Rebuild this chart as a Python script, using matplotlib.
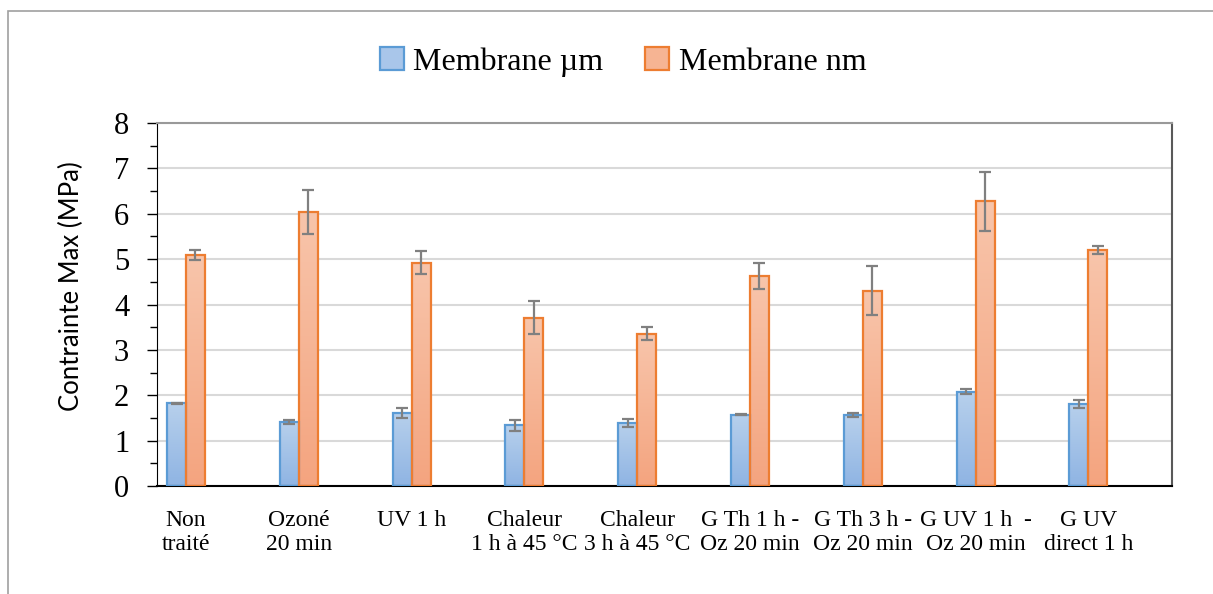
#! /usr/bin/env python3

import matplotlib
matplotlib.use("Agg")
import matplotlib.pyplot as plt
import numpy as np
from matplotlib.colors import to_rgb
from matplotlib.patches import Rectangle

labels = ["Non\ntraité", "Ozoné\n20 min", "UV 1 h", "Chaleur\n1 h à 45 °C",
          "Chaleur\n3 h à 45 °C", "G Th 1 h -\nOz 20 min", "G Th 3 h -\nOz 20 min",
          "G UV 1 h  -\nOz 20 min", "G UV\ndirect 1 h"]
membrane_um     = [1.82, 1.42, 1.61, 1.34, 1.39, 1.57, 1.56, 2.08, 1.81]
membrane_um_err = [0.01, 0.045, 0.11, 0.12, 0.09, 0.01, 0.05, 0.06, 0.08]
membrane_nm     = [5.09, 6.04, 4.92, 3.71, 3.36, 4.63, 4.30, 6.27, 5.21]
membrane_nm_err = [0.12, 0.48, 0.25, 0.36, 0.15, 0.29, 0.54, 0.65, 0.09]

serif = "Liberation Serif"
x = np.arange(len(labels))
width = 0.168

fig = plt.figure(figsize=(12.13, 5.94), dpi=100)
ax = fig.add_axes([157/1213, 1 - 486/594, (1172 - 157)/1213, (486 - 123)/594])

b1 = ax.bar(x - width/2, membrane_um, width, facecolor="none", edgecolor="#5b9bd5",
            linewidth=1.6, label="Membrane µm", zorder=3)
b2 = ax.bar(x + width/2, membrane_nm, width, facecolor="none", edgecolor="#ed7d31",
            linewidth=1.6, label="Membrane nm", zorder=3)


def gradient_fill(rects, top, bottom):
    """Vertical gradient inside each bar, clipped to the bar."""
    t = np.linspace(0, 1, 128)[:, None]
    img = (1 - t) * np.array(to_rgb(top)) + t * np.array(to_rgb(bottom))
    img = img[:, None, :]
    for r in rects:
        im = ax.imshow(img, extent=[r.get_x(), r.get_x() + r.get_width(), 0, r.get_height()],
                       aspect="auto", zorder=2, interpolation="bilinear")
        im.set_clip_path(r)


gradient_fill(b1, "#b7d0ec", "#8fb4e3")
gradient_fill(b2, "#f8c5ab", "#f4a47f")

ax.errorbar(x - width/2, membrane_um, yerr=membrane_um_err, fmt="none", ecolor="#808080",
            elinewidth=1.6, capsize=4, capthick=1.6, zorder=4)
ax.errorbar(x + width/2, membrane_nm, yerr=membrane_nm_err, fmt="none", ecolor="#808080",
            elinewidth=1.6, capsize=4, capthick=1.6, zorder=4)

ax.set_xlim(-0.257, 8.741)
ax.set_ylim(0, 8)
ax.set_yticks(range(0, 9))
ax.set_yticks(np.arange(0.5, 8, 1), minor=True)
ax.set_xticks(x)
ax.set_xticklabels(labels, fontfamily=serif, fontsize=17, linespacing=1.2)
ax.tick_params(axis="x", length=0, pad=17)
ax.tick_params(axis="y", which="major", length=7, width=1, pad=13, labelsize=22)
ax.tick_params(axis="y", which="minor", length=5, width=1)
for t in ax.get_yticklabels():
    t.set_fontfamily(serif)

ax.yaxis.grid(True, color="#d9d9d9", linewidth=1.5, zorder=0)
ax.set_axisbelow(True)
ax.spines["left"].set_color("black")
ax.spines["bottom"].set_color("black")
ax.spines["bottom"].set_linewidth(1.5)
ax.spines["top"].set_color("#999999")
ax.spines["top"].set_linewidth(1.5)
ax.spines["right"].set_color("#595959")
ax.spines["right"].set_linewidth(1.5)

fig.text(71/1213, 1 - 286/594, "Contrainte Max (MPa)", rotation=90, ha="center", va="center",
         fontfamily="Lato", fontsize=18.5)

fig.legend(handles=[b1, b2], loc="center", bbox_to_anchor=(623/1213, 1 - 62/594), ncol=2,
           frameon=False, prop={"family": serif, "size": 23}, handlelength=0.75,
           handleheight=0.75, handletextpad=0.3, columnspacing=1.3)
for h, c in zip(fig.legends[0].legend_handles, ["#a9c6ea", "#f6b493"]):
    h.set_facecolor(c)

# chart frame
fig.add_artist(Rectangle((8/1213, -0.2), 1.5, 1.2 - 11/594, transform=fig.transFigure,
                         fill=False, edgecolor="#a0a0a0", linewidth=1.2))

plt.savefig("out.png", dpi=100)
